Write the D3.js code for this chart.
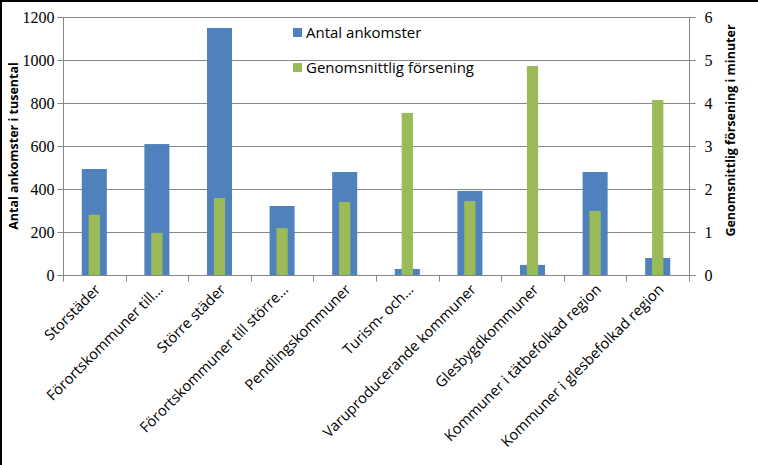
<!DOCTYPE html>
<html>
<head>
<meta charset="utf-8">
<script src="https://cdn.jsdelivr.net/npm/d3@7"></script>
<style>
  body { margin: 0; background: #fff; }
  svg { display: block; }
</style>
</head>
<body>
<svg id="chart" width="758" height="465"></svg>
<script>
const categories = [
  "Storstäder",
  "Förortskommuner till…",
  "Större städer",
  "Förortskommuner till större…",
  "Pendlingskommuner",
  "Turism- och…",
  "Varuproducerande kommuner",
  "Glesbygdkommuner",
  "Kommuner i tätbefolkad region",
  "Kommuner i glesbefolkad region"
];
const arrivals = [493, 609, 1149, 321, 479, 28, 391, 47, 479, 79];
const delays = [1.40, 0.98, 1.79, 1.09, 1.70, 3.77, 1.72, 4.86, 1.49, 4.07];
const leftTicks = [0, 200, 400, 600, 800, 1000, 1200];
const rightTicks = [0, 1, 2, 3, 4, 5, 6];
const seriesNames = ["Antal ankomster", "Genomsnittlig försening"];
const leftTitle = "Antal ankomster i tusental";
const rightTitle = "Genomsnittlig försening i minuter";

const svg = d3.select("#chart");
const W = 758, H = 465;
const m = { left: 63, right: 689, top: 17, bottom: 275 };
const blue = "#4F81BD", green = "#9BBB59", grid = "#868686";
const labelFont = "'Open Sans', 'Noto Sans', sans-serif";
const numFont = "'Liberation Serif', 'DejaVu Serif', serif";

svg.append("rect").attr("x", 0).attr("y", 0).attr("width", W).attr("height", H).attr("fill", "#fff");

const x = d3.scaleBand().domain(categories).range([m.left, m.right]).paddingInner(0).paddingOuter(0);
const yL = d3.scaleLinear().domain([0, 1200]).range([m.bottom, m.top]);
const yR = d3.scaleLinear().domain([0, 6]).range([m.bottom, m.top]);

// gridlines
svg.append("g").selectAll("line").data(leftTicks).join("line")
  .attr("x1", m.left).attr("x2", m.right)
  .attr("y1", d => Math.round(yL(d)) + 0.5).attr("y2", d => Math.round(yL(d)) + 0.5)
  .attr("stroke", grid).attr("stroke-width", 1);

// left axis
const gL = svg.append("g").attr("transform", `translate(${m.left + 0.5},0)`)
  .call(d3.axisLeft(yL).tickValues(leftTicks).tickSize(6).tickPadding(3).tickFormat(d3.format("d")))
  .attr("font-family", numFont).attr("font-size", 16);
gL.selectAll("path, line").attr("stroke", grid);
gL.select(".domain").attr("d", `M-6,${m.top + 0.5}H0V${m.bottom + 0.5}H-6`);
gL.selectAll("text").attr("font-family", numFont).attr("font-size", 16).attr("fill", "#000");

// right axis
const gR = svg.append("g").attr("transform", `translate(${m.right + 0.5},0)`)
  .call(d3.axisRight(yR).tickValues(rightTicks).tickSize(6).tickPadding(9).tickFormat(d3.format("d")))
  .attr("font-family", numFont).attr("font-size", 16);
gR.selectAll("path, line").attr("stroke", grid);
gR.select(".domain").attr("d", `M6,${m.top + 0.5}H0V${m.bottom + 0.5}H6`);
gR.selectAll("text").attr("font-family", numFont).attr("font-size", 16).attr("fill", "#000");

// bars
const bw = x.bandwidth();
svg.append("g").selectAll("rect").data(categories).join("rect")
  .attr("x", d => x(d) + bw * 0.3)
  .attr("width", bw * 0.4)
  .attr("y", (d, i) => yL(arrivals[i]))
  .attr("height", (d, i) => yL(0) - yL(arrivals[i]))
  .attr("fill", blue);
svg.append("g").selectAll("rect").data(categories).join("rect")
  .attr("x", d => x(d) + bw * 0.5 - bw * 0.09)
  .attr("width", bw * 0.18)
  .attr("y", (d, i) => yR(delays[i]))
  .attr("height", (d, i) => yR(0) - yR(delays[i]))
  .attr("fill", green);

// x axis
const gX = svg.append("g").attr("transform", `translate(0,${m.bottom + 0.5})`);
gX.append("line").attr("x1", m.left).attr("x2", m.right + 6).attr("stroke", grid);
const bounds = categories.map(d => x(d)).concat([m.right]);
gX.selectAll("line.tk").data(bounds).join("line").attr("class", "tk")
  .attr("x1", d => Math.round(d) + 0.5).attr("x2", d => Math.round(d) + 0.5)
  .attr("y1", 0).attr("y2", 6).attr("stroke", grid);
gX.selectAll("text").data(categories).join("text")
  .attr("transform", d => `translate(${x(d) + bw / 2 + 7},${15}) rotate(-45)`)
  .attr("text-anchor", "end")
  .attr("font-family", labelFont).attr("font-size", 14.7).attr("fill", "#000")
  .text(d => d);

// axis titles
svg.append("text")
  .attr("transform", `translate(18,${(55 + 237) / 2}) rotate(-90)`)
  .attr("text-anchor", "middle").attr("font-family", labelFont).attr("font-weight", "bold")
  .attr("font-size", 12.5).attr("fill", "#000").text(leftTitle);
svg.append("text")
  .attr("transform", `translate(735,${(28 + 233) / 2}) rotate(-90)`)
  .attr("text-anchor", "middle").attr("font-family", labelFont).attr("font-weight", "bold")
  .attr("font-size", 12.5).attr("fill", "#000").text(rightTitle);

// legend
const leg = svg.append("g");
[blue, green].forEach((c, i) => {
  const ly = 28 + i * 35;
  leg.append("rect").attr("x", 293).attr("y", ly).attr("width", 9).attr("height", 9).attr("fill", c);
  leg.append("text").attr("x", 306).attr("y", ly + 10).attr("font-family", labelFont)
    .attr("font-size", 15).attr("fill", "#000").text(seriesNames[i]);
});

// outer border (left and top visible)
svg.append("line").attr("x1", 1).attr("x2", 1).attr("y1", 0).attr("y2", H).attr("stroke", "#000").attr("stroke-width", 2);
svg.append("line").attr("x1", 0).attr("x2", W).attr("y1", 1).attr("y2", 1).attr("stroke", "#000").attr("stroke-width", 2);
</script>
</body>
</html>
